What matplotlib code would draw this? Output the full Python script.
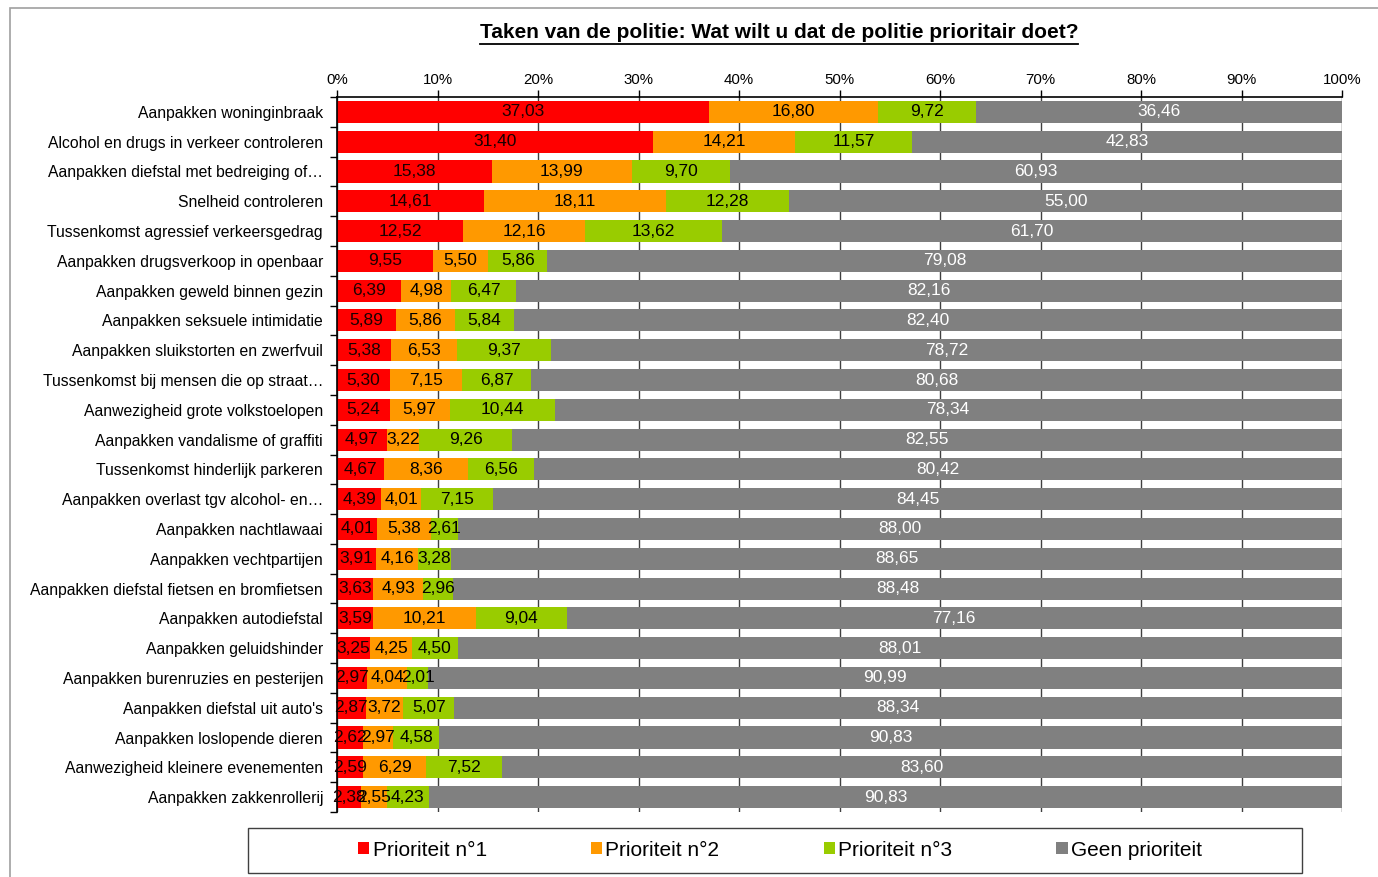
import matplotlib.pyplot as plt
import numpy as np
from matplotlib.patches import Rectangle

plt.rcParams['font.family'] = ['Liberation Sans', 'DejaVu Sans']

# data, top to bottom as in the chart
categories = [
    "Aanpakken woninginbraak",
    "Alcohol en drugs in verkeer controleren",
    "Aanpakken diefstal met bedreiging of…",
    "Snelheid controleren",
    "Tussenkomst agressief verkeersgedrag",
    "Aanpakken drugsverkoop in openbaar",
    "Aanpakken geweld binnen gezin",
    "Aanpakken seksuele intimidatie",
    "Aanpakken sluikstorten en zwerfvuil",
    "Tussenkomst bij mensen die op straat…",
    "Aanwezigheid grote volkstoelopen",
    "Aanpakken vandalisme of graffiti",
    "Tussenkomst hinderlijk parkeren",
    "Aanpakken overlast tgv alcohol- en…",
    "Aanpakken nachtlawaai",
    "Aanpakken vechtpartijen",
    "Aanpakken diefstal fietsen en bromfietsen",
    "Aanpakken autodiefstal",
    "Aanpakken geluidshinder",
    "Aanpakken burenruzies en pesterijen",
    "Aanpakken diefstal uit auto's",
    "Aanpakken loslopende dieren",
    "Aanwezigheid kleinere evenementen",
    "Aanpakken zakkenrollerij",
]
prio1 = [37.03, 31.40, 15.38, 14.61, 12.52, 9.55, 6.39, 5.89, 5.38, 5.30, 5.24, 4.97,
         4.67, 4.39, 4.01, 3.91, 3.63, 3.59, 3.25, 2.97, 2.87, 2.62, 2.59, 2.38]
prio2 = [16.80, 14.21, 13.99, 18.11, 12.16, 5.50, 4.98, 5.86, 6.53, 7.15, 5.97, 3.22,
         8.36, 4.01, 5.38, 4.16, 4.93, 10.21, 4.25, 4.04, 3.72, 2.97, 6.29, 2.55]
prio3 = [9.72, 11.57, 9.70, 12.28, 13.62, 5.86, 6.47, 5.84, 9.37, 6.87, 10.44, 9.26,
         6.56, 7.15, 2.61, 3.28, 2.96, 9.04, 4.50, 2.01, 5.07, 4.58, 7.52, 4.23]
geen = [36.46, 42.83, 60.93, 55.00, 61.70, 79.08, 82.16, 82.40, 78.72, 80.68, 78.34, 82.55,
        80.42, 84.45, 88.00, 88.65, 88.48, 77.16, 88.01, 90.99, 88.34, 90.83, 83.60, 90.83]

series = [prio1, prio2, prio3, geen]
names = ["Prioriteit n°1", "Prioriteit n°2", "Prioriteit n°3", "Geen prioriteit"]
colors = ["#FF0000", "#FF9900", "#99CC00", "#808080"]
text_colors = ["#1a0000", "#000000", "#000000", "#FFFFFF"]

fig = plt.figure(figsize=(13.78, 8.77), dpi=100)
# outer chart frame
fig.patches.append(Rectangle((10 / 1378, -0.01), 1.0, 1 - 8 / 877 + 0.01,
                             transform=fig.transFigure, fill=False,
                             edgecolor="#A0A0A0", linewidth=1.2))
ax = fig.add_axes([337 / 1378, 1 - 812 / 877, 1005 / 1378, 715 / 877])

y = np.arange(len(categories))
left = np.zeros(len(categories))
for vals, name, col, tcol in zip(series, names, colors, text_colors):
    vals = np.array(vals)
    bars = ax.barh(y, vals, left=left, height=0.74, color=col, label=name, zorder=2)
    ax.bar_label(bars, labels=[f"{v:.2f}".replace(".", ",") for v in vals],
                 label_type="center", color=tcol, fontsize=12.5)
    left += vals

ax.set_xlim(0, 100)
ax.set_ylim(len(categories) - 0.5, -0.5)
ax.set_xticks(np.arange(0, 101, 10))
ax.set_xticklabels([f"{v}%" for v in range(0, 101, 10)], fontsize=10.8)
ax.xaxis.tick_top()
ax.xaxis.grid(True, color="#404040", linewidth=1.0, zorder=0)
ax.set_axisbelow(True)
ax.tick_params(axis="x", length=5, width=1, pad=2)

ax.set_yticks(y)
ax.set_yticklabels(categories, fontsize=11.3)
ax.set_yticks(np.arange(-0.5, len(categories)), minor=True)
ax.tick_params(axis="y", which="major", length=0, pad=10)
ax.tick_params(axis="y", which="minor", length=5, width=1)

for s in ["right", "bottom"]:
    ax.spines[s].set_visible(False)
ax.spines["top"].set_linewidth(1.2)
ax.spines["left"].set_linewidth(1.2)

title = fig.text(779 / 1378, 1 - 33 / 877,
                 "Taken van de politie: Wat wilt u dat de politie prioritair doet?",
                 ha="center", va="center", fontsize=15, fontweight="bold")
fig.canvas.draw()
bb = title.get_window_extent().transformed(fig.transFigure.inverted())
fig.add_artist(plt.Line2D([bb.x0, bb.x1], [bb.y0 - 0.002, bb.y0 - 0.002],
                          color="black", linewidth=1.3, transform=fig.transFigure))

# legend box as in the reference, legend entries inside
fig.patches.append(Rectangle((248 / 1378, 1 - 873 / 877), 1054 / 1378, 45 / 877,
                             transform=fig.transFigure, fill=False,
                             edgecolor="#404040", linewidth=1.0))
fig.legend(loc="center", bbox_to_anchor=(780 / 1378, 1 - 850 / 877), ncol=4,
           frameon=False, fontsize=15,
           handlelength=0.55, handleheight=0.55, handletextpad=0.15,
           columnspacing=5.0)

fig.savefig("out.png", dpi=100)
